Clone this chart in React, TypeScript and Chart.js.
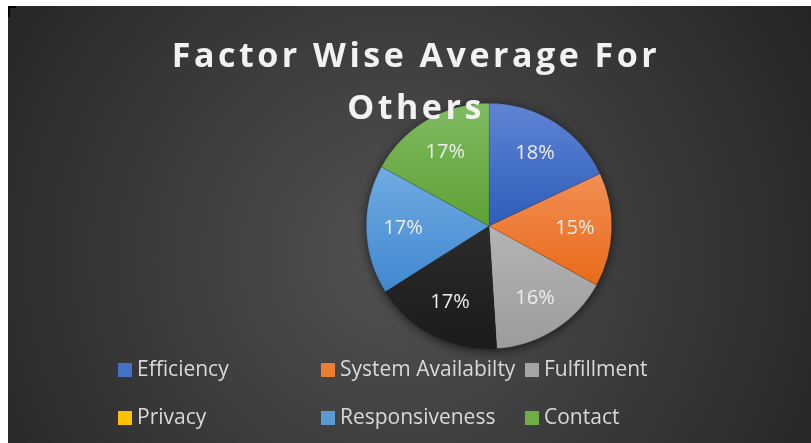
import React, { useEffect, useRef } from 'react';
import { Chart, registerables } from 'chart.js';

Chart.register(...registerables);

// ---- data ----
const titleLines = ['Factor Wise Average For', 'Others'];
const categories = ['Efficiency', 'System Availabilty', 'Fulfillment', 'Privacy', 'Responsiveness', 'Contact'];
const shares = [18, 15, 16, 17, 17, 17];
const sliceTopColors = ['#5f84d4', '#f28f55', '#b4b4b4', '#2b2b2b', '#70abe2', '#80bb61'];
const sliceBottomColors = ['#2d5dbb', '#e86a17', '#9c9c9c', '#1b1b1b', '#4088d0', '#5ea236'];
const legendColors = ['#4472c4', '#ed7d31', '#a5a5a5', '#ffc000', '#5b9bd5', '#70ad47'];

const W = 803;
const H = 437;

const total = shares.reduce((a, b) => a + b, 0);

function sliceGradient(ctx: any) {
  const chart = ctx.chart;
  const area = chart.chartArea;
  const i = ctx.dataIndex;
  if (!area || i === undefined) return legendColors[i ?? 0];
  const cx = (area.left + area.right) / 2;
  const cy = (area.top + area.bottom) / 2;
  const r = Math.min(area.right - area.left, area.bottom - area.top) / 2;
  let before = 0;
  for (let k = 0; k < i; k++) before += shares[k];
  const s = (before / total) * Math.PI * 2 - Math.PI / 2;
  const e = ((before + shares[i]) / total) * Math.PI * 2 - Math.PI / 2;
  const ys = [cy, cy + r * Math.sin(s), cy + r * Math.sin(e)];
  const inRange = (a: number) => (a >= s && a <= e) || (a + 2 * Math.PI >= s && a + 2 * Math.PI <= e);
  if (inRange(Math.PI / 2)) ys.push(cy + r);
  if (inRange(-Math.PI / 2) || inRange(Math.PI * 1.5)) ys.push(cy - r);
  const y0 = Math.min(...ys);
  const y1 = Math.max(...ys);
  const g = chart.ctx.createLinearGradient(0, y0, 0, Math.max(y1, y0 + 1));
  g.addColorStop(0, sliceTopColors[i]);
  g.addColorStop(1, sliceBottomColors[i]);
  return g;
}

const backgroundPlugin = {
  id: 'bgGradient',
  beforeDraw(chart: any) {
    const c = chart.ctx;
    c.save();
    const g = c.createRadialGradient(390, 250, 0, 390, 250, 480);
    g.addColorStop(0, '#525252');
    g.addColorStop(1, '#252525');
    c.fillStyle = g;
    c.fillRect(0, 0, chart.width, chart.height);
    c.restore();
  },
  beforeDatasetsDraw(chart: any) {
    const arc = chart.getDatasetMeta(0).data[0];
    if (!arc) return;
    const c = chart.ctx;
    c.save();
    c.shadowColor = 'rgba(0,0,0,0.75)';
    c.shadowBlur = 12;
    c.shadowOffsetX = 0;
    c.shadowOffsetY = 2;
    c.fillStyle = '#222222';
    c.beginPath();
    c.arc(arc.x, arc.y, arc.outerRadius - 1, 0, Math.PI * 2);
    c.fill();
    c.restore();
  },
};

const labelPlugin = {
  id: 'sliceLabels',
  afterDatasetsDraw(chart: any) {
    const meta = chart.getDatasetMeta(0);
    const c = chart.ctx;
    c.save();
    c.font = "20px 'Open Sans'";
    c.fillStyle = '#ececec';
    c.textAlign = 'center';
    c.textBaseline = 'middle';
    meta.data.forEach((arc: any, i: number) => {
      const mid = (arc.startAngle + arc.endAngle) / 2;
      const r = arc.outerRadius * 0.7;
      const x = arc.x + Math.cos(mid) * r;
      const y = arc.y + Math.sin(mid) * r;
      const pct = Math.round((shares[i] / total) * 100);
      c.fillText(pct + '%', x, y);
    });
    c.restore();
  },
};

const overlayPlugin = {
  id: 'titleLegend',
  afterDraw(chart: any) {
    const c = chart.ctx;
    c.save();
    // title
    c.font = "bold 34px 'Open Sans'";
    c.fillStyle = '#f2f2f2';
    c.textAlign = 'center';
    c.textBaseline = 'alphabetic';
    try { (c as any).letterSpacing = '3.5px'; } catch (e) {}
    c.fillText(titleLines[0], 408, 61);
    c.fillText(titleLines[1], 408, 113);
    try { (c as any).letterSpacing = '0px'; } catch (e) {}
    // legend
    const colX = [110, 313, 517];
    const rowY = [364, 412];
    c.font = "21px 'Open Sans'";
    c.textAlign = 'left';
    c.textBaseline = 'middle';
    categories.forEach((label, i) => {
      const col = i % 3;
      const row = Math.floor(i / 3);
      const x = colX[col];
      const y = rowY[row];
      c.fillStyle = legendColors[i];
      c.fillRect(x, y - 7, 14, 14);
      c.fillStyle = '#d9d9d9';
      c.fillText(label, x + 19, y);
    });
    c.restore();
  },
};

export default function App() {
  const ref = useRef<HTMLCanvasElement | null>(null);
  useEffect(() => {
    if (!ref.current) return;
    const chart = new Chart(ref.current, {
      type: 'pie',
      data: {
        labels: categories,
        datasets: [
          {
            data: shares,
            backgroundColor: sliceGradient as any,
            borderColor: 'rgba(0,0,0,0.25)',
            borderWidth: 0.5,
          },
        ],
      },
      options: {
        responsive: false,
        animation: false,
        events: [],
        layout: { padding: { left: 200, right: 41, top: 97, bottom: 94 } },
        plugins: {
          legend: { display: false },
          title: { display: false },
          tooltip: { enabled: false },
        },
      },
      plugins: [backgroundPlugin, labelPlugin, overlayPlugin],
    });
    return () => chart.destroy();
  }, []);
  return (
    <div style={{ position: 'absolute', left: 8, top: 6, width: W, height: H }}>
      <canvas ref={ref} width={W} height={H} style={{ width: W, height: H, display: 'block' }} />
      <div
        style={{
          position: 'absolute',
          left: 0,
          top: 0,
          width: 6,
          height: 9,
          borderTop: '2px solid #000',
          borderLeft: '2px solid #000',
        }}
      />
    </div>
  );
}
